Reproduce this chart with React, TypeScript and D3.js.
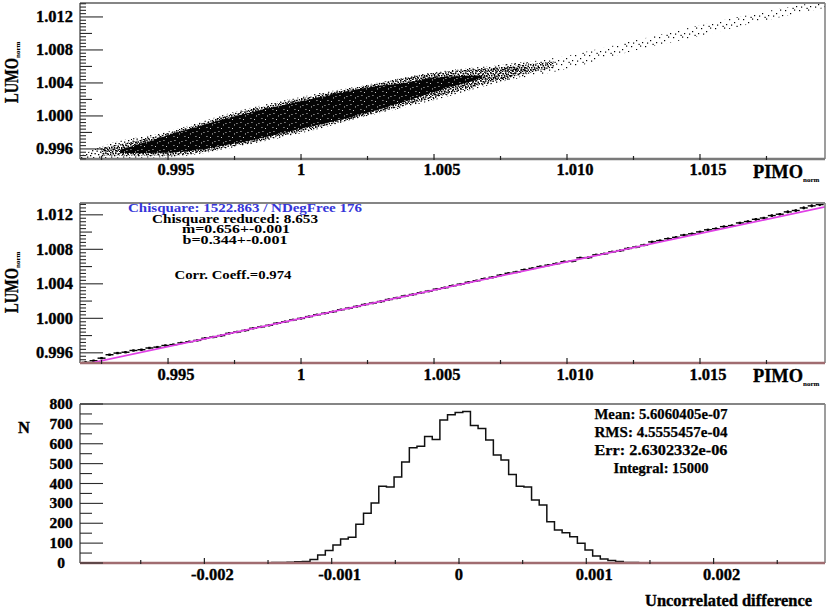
import React from 'react';
import * as d3 from 'd3';

const OUTER_X = [0.9917, 0.9925, 0.995, 0.9975, 1.0, 1.0025, 1.005, 1.0075, 1.0085];
const OUTER_LO = [0.99478, 0.9949, 0.995, 0.9962, 0.9979, 1.0, 1.0019, 1.0041, 1.0049];
const OUTER_HI = [0.9952, 0.9963, 0.9981, 1.0005, 1.0023, 1.0038, 1.0053, 1.0062, 1.0066];
const TRAIL_X = [1.0075, 1.01, 1.0125, 1.015, 1.0175, 1.0197];
const TRAIL_LO = [1.0042, 1.0057, 1.0079, 1.0097, 1.0116, 1.0131];
const TRAIL_HI = [1.0061, 1.0073, 1.0091, 1.011, 1.0127, 1.01395];
const MID_X = [0.9925, 0.995, 0.9975, 1.0, 1.0025, 1.005, 1.0075, 1.0095];
const MID_LO = [0.9952, 0.9952, 0.9964, 0.9981, 1.0001, 1.0022, 1.0044, 1.0059];
const MID_HI = [0.9961, 0.9979, 1.0003, 1.0021, 1.0037, 1.0052, 1.0059, 1.0066];
const CORE_X = [0.9932, 0.995, 0.9975, 1.0, 1.0025, 1.004, 1.005, 1.0068];
const CORE_LO = [0.9955, 0.99555, 0.99665, 0.99845, 1.0004, 1.00185, 1.0029, 1.0045];
const CORE_HI = [0.9959, 0.99765, 0.99995, 1.00178, 1.00345, 1.00405, 1.00465, 1.0049];

// ---- panel 2: profile + linear fit ----
const PROFILE_FIRST = 0.9919;
const PROFILE_STEP = 0.0003;
const PROFILE_Y = [
  0.99489, 0.99508, 0.99538, 0.99578, 0.99597, 0.99607, 0.99627, 0.99636, 0.99656, 0.99666,
  0.99685, 0.99695, 0.99715, 0.99729, 0.99744, 0.99769, 0.99783, 0.998, 0.99826, 0.99842,
  0.9986, 0.99885, 0.99901, 0.99919, 0.99943, 0.99961, 0.99982, 0.99999, 1.0002, 1.00041,
  1.00059, 1.00077, 1.001, 1.00118, 1.00138, 1.0016, 1.00177, 1.00195, 1.00218, 1.00236,
  1.00259, 1.00276, 1.00297, 1.00315, 1.00338, 1.00355, 1.00378, 1.00396, 1.00418, 1.00436,
  1.00459, 1.00476, 1.005, 1.00522, 1.00537, 1.00563, 1.00579, 1.006, 1.00616, 1.00634,
  1.00657, 1.00663, 1.00701, 1.00704, 1.00736, 1.00748, 1.00771, 1.00785, 1.0081, 1.00827,
  1.0085, 1.00886, 1.00901, 1.00923, 1.00939, 1.00965, 1.0098, 1.01002, 1.01026, 1.01039,
  1.01063, 1.01075, 1.01106, 1.01122, 1.01148, 1.01163, 1.01191, 1.01207, 1.01234, 1.0125,
  1.0128, 1.01304, 1.01319,
];
const PROFILE_ERR = [
  0.00012, 0.0001, 0.00008, 0.00006, 0.00006, 0.00005, 0.00005, 0.00005, 0.00004, 0.00004,
  0.00004, 0.00003, 0.00003, 0.00003, 0.00003, 0.00003, 0.00003, 0.00003, 0.00003, 0.00003,
  0.00003, 0.00003, 0.00003, 0.00003, 0.00003, 0.00003, 0.00003, 0.00003, 0.00003, 0.00003,
  0.00003, 0.00003, 0.00003, 0.00003, 0.00003, 0.00003, 0.00003, 0.00003, 0.00003, 0.00003,
  0.00003, 0.00003, 0.00003, 0.00003, 0.00003, 0.00003, 0.00003, 0.00003, 0.00003, 0.00003,
  0.00003, 0.00003, 0.00004, 0.00004, 0.00004, 0.00004, 0.00004, 0.00004, 0.00004, 0.00004,
  0.00004, 0.00005, 0.00005, 0.00005, 0.00005, 0.00006, 0.00005, 0.00006, 0.00006, 0.00006,
  0.00007, 0.00009, 0.00008, 0.00009, 0.00008, 0.0001, 0.00009, 0.0001, 0.00011, 0.0001,
  0.00011, 0.0001, 0.00012, 0.00011, 0.00013, 0.00012, 0.00014, 0.00012, 0.00015, 0.00013,
  0.00016, 0.00015, 0.00018,
];
const FIT_M = 0.656;
const FIT_B = 0.344;
const FIT_TEXT = ['Chisquare: 1522.863 / NDegFree 176', 'Chisquare reduced: 8.653', 'm=0.656+-0.001', 'b=0.344+-0.001', 'Corr. Coeff.=0.974'];

// ---- panel 3: histogram of the uncorrelated difference ----
const HIST_FIRST_EDGE = -0.00153;
const HIST_BIN = 0.00006;
const HIST_COUNTS = [
  1, 2, 3, 4, 6, 8, 18, 40, 63, 90, 121, 130, 195, 250, 302, 386, 382, 433, 508, 580,
  588, 636, 621, 720, 746, 757, 762, 692, 677, 619, 543, 518, 445, 386, 382, 317, 292, 208,
  166, 152, 132, 99, 65, 35, 20, 12, 7, 3, 2, 1, 1,
];
const STATS_TEXT = ['Mean: 5.6060405e-07', 'RMS: 4.5555457e-04', 'Err: 2.6302332e-06', 'Integral: 15000'];

// ---- axes ----
const LUMO_TICKS = [0.996, 1.0, 1.004, 1.008, 1.012];
const LUMO_LABELS = ['0.996', '1.000', '1.004', '1.008', '1.012'];
const PIMO_TICKS = [0.995, 1.0, 1.005, 1.01, 1.015];
const PIMO_LABELS = ['0.995', '1', '1.005', '1.010', '1.015'];
const DIFF_TICKS = [-0.002, -0.001, 0, 0.001, 0.002];
const DIFF_LABELS = ['-0.002', '-0.001', '0', '0.001', '0.002'];
const N_TICKS = [0, 100, 200, 300, 400, 500, 600, 700, 800];

const FONT = '"Liberation Serif", "Times New Roman", serif';
const LEFT = 80;
const RIGHT = 825;

const xP = d3.scaleLinear().domain([0.99169, 1.0197]).range([LEFT, RIGHT]);
const yA = d3.scaleLinear().domain([0.99478, 1.01369]).range([159, 3]);
const yB = d3.scaleLinear().domain([0.99482, 1.01337]).range([363, 203]);
const xD = d3.scaleLinear().domain([-0.002977, 0.002875]).range([LEFT, RIGHT]);
const yN = d3.scaleLinear().domain([0, 800]).range([563, 404]);

const band = (xs: number[], lo: number[], hi: number[], y: d3.ScaleLinear<number, number>) =>
  d3.area<number>()
    .x((_, i) => xP(xs[i]))
    .y0((_, i) => y(lo[i]))
    .y1((_, i) => y(hi[i]))
    .curve(d3.curveMonotoneX)(xs) || '';

// ticks of a linear axis every `step`, with their index
const minorTicks = (domain: number[], step: number) => {
  const a = Math.ceil(domain[0] / step - 1e-9);
  const b = Math.floor(domain[1] / step + 1e-9);
  return d3.range(a, b + 1).map((i) => ({ i, v: i * step }));
};

// dot texture tiles (irregular, hand placed)
const SPECK = (pts: number[][], fill: string, s: number) =>
  pts.map(([x, y], k) => <rect key={k} x={x} y={y} width={s} height={s} fill={fill} />);

const Frame: React.FC<{ top: number; bottom: number; bottomColor: string }> = ({ top, bottom, bottomColor }) => (
  <g>
    <line x1={LEFT} x2={RIGHT} y1={top} y2={top} stroke="#858585" strokeWidth={2.2} />
    <line x1={RIGHT} x2={RIGHT} y1={top} y2={bottom} stroke="#858585" strokeWidth={1.6} />
    <line x1={LEFT} x2={LEFT} y1={top} y2={bottom} stroke="#7a7a7a" strokeWidth={1.8} />
    <line x1={LEFT} x2={RIGHT} y1={bottom} y2={bottom} stroke={bottomColor} strokeWidth={2.4} />
  </g>
);

const LABEL = { fontWeight: 'bold', fontFamily: FONT, stroke: '#000', strokeWidth: 0.35 } as const;

const LumoAxis: React.FC<{ y: d3.ScaleLinear<number, number> }> = ({ y }) => (
  <g>
    {minorTicks(y.domain(), 0.0004).map(({ i, v }) => {
      const len = i % 10 === 0 ? 23 : i % 5 === 0 ? 12 : 6;
      return <line key={i} x1={LEFT} x2={LEFT + len} y1={y(v)} y2={y(v)} stroke="#2b2b2b" strokeWidth={1.1} />;
    })}
    {LUMO_TICKS.map((v, k) => (
      <text key={k} x={73} y={y(v) + 5.5} textAnchor="end" fontSize={16.5} {...LABEL}>
        {LUMO_LABELS[k]}
      </text>
    ))}
  </g>
);

const BottomTicks: React.FC<{ x: d3.ScaleLinear<number, number>; step: number; bottom: number; ticks: number[]; labels: string[]; labelY: number }> = ({ x, step, bottom, ticks, labels, labelY }) => (
  <g>
    {minorTicks(x.domain(), step).map(({ i, v }) => (
      <line key={i} x1={x(v)} x2={x(v)} y1={bottom + 1} y2={bottom - (i % 2 === 0 ? 5 : 3)} stroke="#222" strokeWidth={1.2} />
    ))}
    {ticks.map((v, k) => (
      <text key={k} x={x(v) + (labels[k].length > 1 ? 8 : 0)} y={labelY} textAnchor="middle" fontSize={16.5} {...LABEL}>
        {labels[k]}
      </text>
    ))}
  </g>
);

const YTitle: React.FC<{ start: number }> = ({ start }) => (
  <text transform={`translate(18, ${start}) rotate(-90)`} fontSize={18} {...LABEL}>
    <tspan textLength={45} lengthAdjust="spacingAndGlyphs">LUMO</tspan>
    <tspan fontSize={7} dy={2} strokeWidth={0.1}>norm</tspan>
  </text>
);

const XTitle: React.FC<{ baseline: number }> = ({ baseline }) => (
  <text x={753} y={baseline} fontSize={18} {...LABEL}>
    <tspan textLength={50} lengthAdjust="spacingAndGlyphs">PIMO</tspan>
    <tspan fontSize={7} dy={4} strokeWidth={0.1}>norm</tspan>
  </text>
);

export default function App() {
  const fitLine = d3.line<number>().x((v) => xP(v)).y((v) => yB(FIT_M * v + FIT_B))(xP.domain()) || '';

  const edges = HIST_COUNTS.map((_, i) => HIST_FIRST_EDGE + i * HIST_BIN);
  const histPts: [number, number][] = edges.map((e, i) => [e, HIST_COUNTS[i]]);
  histPts.unshift([HIST_FIRST_EDGE, 0]);
  histPts.push([HIST_FIRST_EDGE + HIST_COUNTS.length * HIST_BIN, 0]);
  const histPath = d3.line<[number, number]>()
    .x((d) => xD(d[0]))
    .y((d) => yN(d[1]))
    .curve(d3.curveStepAfter)(histPts) || '';

  const fitLines = [212, 222.5, 233, 243.5, 279];
  const fitX = [245, 235, 236, 235, 233];
  const fitW = [234, 166, 108, 105, 117];

  return (
    <svg width={830} height={611} viewBox="0 0 830 611" style={{ position: 'absolute', left: 0, top: 0, background: '#fff' }}>
      <defs>
        <clipPath id="clipA"><rect x={LEFT} y={3} width={RIGHT - LEFT} height={156} /></clipPath>
        <clipPath id="clipB"><rect x={LEFT} y={203} width={RIGHT - LEFT} height={160} /></clipPath>
        <pattern id="trail" width={14} height={9} patternUnits="userSpaceOnUse">
          {SPECK([[1, 1], [6, 4], [10, 0.5], [3, 6.5], [12, 6], [8.5, 7.8]], '#000', 1.2)}
        </pattern>
        <pattern id="sparse" width={12} height={10} patternUnits="userSpaceOnUse">
          {SPECK([[0.5, 0.5], [4, 1.5], [8, 0], [10.5, 3], [2, 4], [6, 5], [9, 7], [1, 8], [4.5, 8.5], [7, 2.8], [11, 9], [3, 6.5]], '#000', 1.3)}
        </pattern>
        <pattern id="mid" width={10} height={8} patternUnits="userSpaceOnUse">
          {SPECK([[0, 0], [2.5, 1], [5, 0.3], [7.5, 1.5], [1, 3], [3.8, 2.8], [6.2, 3.5], [8.8, 3], [0.3, 5.5], [2.6, 5], [5, 6], [7.5, 5.3], [9, 7], [1.8, 7], [4, 4.3], [6.5, 7.2]], '#000', 1.5)}
        </pattern>
        <pattern id="dense" width={11} height={9} patternUnits="userSpaceOnUse">
          <rect x={0} y={0} width={11} height={9} fill="#050505" />
          {SPECK([[1, 2], [5.5, 6], [8.5, 1], [3, 7.5], [9.5, 5]], '#fff', 0.9)}
        </pattern>
      </defs>

      {/* ---------- panel 1 ---------- */}
      <g clipPath="url(#clipA)">
        <path d={band(TRAIL_X, TRAIL_LO, TRAIL_HI, yA)} fill="url(#trail)" />
        <path d={band(OUTER_X, OUTER_LO, OUTER_HI, yA)} fill="url(#sparse)" />
        <path d={band(MID_X, MID_LO, MID_HI, yA)} fill="url(#mid)" />
        <path d={band(CORE_X, CORE_LO, CORE_HI, yA)} fill="url(#dense)" />
      </g>
      <Frame top={3} bottom={159} bottomColor="#7a7a7a" />
      <LumoAxis y={yA} />
      <BottomTicks x={xP} step={0.0025} bottom={159} ticks={PIMO_TICKS} labels={PIMO_LABELS} labelY={175} />
      <YTitle start={103} />
      <XTitle baseline={178} />

      {/* ---------- panel 2 ---------- */}
      <g clipPath="url(#clipB)">
        {PROFILE_Y.map((v, i) => {
          const xc = PROFILE_FIRST + i * PROFILE_STEP;
          const yc = yB(v);
          return (
            <g key={i} stroke="#000" strokeWidth={1.4}>
              <line x1={xP(xc - PROFILE_STEP / 2)} x2={xP(xc + PROFILE_STEP / 2)} y1={yc} y2={yc} />
              <line x1={xP(xc)} x2={xP(xc)} y1={yB(v - PROFILE_ERR[i])} y2={yB(v + PROFILE_ERR[i])} />
              <rect x={xP(xc) - 1.2} y={yc - 1.2} width={2.4} height={2.4} fill="#000" stroke="none" />
            </g>
          );
        })}
        <path d={fitLine} fill="none" stroke="#e040e6" strokeWidth={1.7} />
      </g>
      <Frame top={203} bottom={363} bottomColor="#a06c70" />
      <LumoAxis y={yB} />
      <BottomTicks x={xP} step={0.0025} bottom={363} ticks={PIMO_TICKS} labels={PIMO_LABELS} labelY={380} />
      <YTitle start={313} />
      <XTitle baseline={382} />
      <g fontFamily={FONT} fontWeight="bold" fontSize={11.5} textAnchor="middle">
        {FIT_TEXT.map((t, k) => (
          <text key={k} x={fitX[k]} y={fitLines[k]} fill={k === 0 ? '#3535d8' : '#000'} textLength={fitW[k]} lengthAdjust="spacingAndGlyphs">
            {t}
          </text>
        ))}
      </g>

      {/* ---------- panel 3 ---------- */}
      <path d={histPath} fill="none" stroke="#111" strokeWidth={1.5} />
      <Frame top={404} bottom={563} bottomColor="#a06c70" />
      {minorTicks(yN.domain(), 50).map(({ i, v }) => (
        <line key={i} x1={LEFT} x2={LEFT + (i % 2 === 0 ? 23 : 12)} y1={yN(v)} y2={yN(v)} stroke="#2b2b2b" strokeWidth={1.1} />
      ))}
      {N_TICKS.map((v) => (
        <text key={v} x={61} y={yN(v) + 5} textAnchor="middle" fontSize={15.5} {...LABEL}>
          {v}
        </text>
      ))}
      <BottomTicks x={xD} step={0.0005} bottom={563} ticks={DIFF_TICKS} labels={DIFF_LABELS} labelY={580} />
      <text x={18} y={433} fontSize={16.5} {...LABEL}>N</text>
      <text x={645} y={606} fontSize={16.5} {...LABEL} textLength={167} lengthAdjust="spacingAndGlyphs">
        Uncorrelated difference
      </text>
      <g fontFamily={FONT} fontWeight="bold" fontSize={14.5} textAnchor="middle" stroke="#000" strokeWidth={0.25}>
        {STATS_TEXT.map((t, k) => (
          <text key={k} x={661} y={419 + k * 18} textLength={k === 3 ? 95 : 133} lengthAdjust="spacingAndGlyphs">{t}</text>
        ))}
      </g>
    </svg>
  );
}
